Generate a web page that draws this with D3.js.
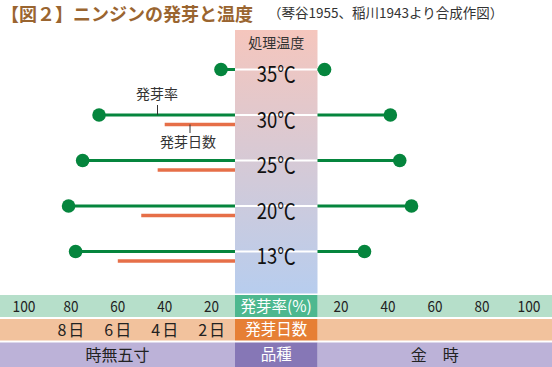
<!DOCTYPE html>
<html>
<head>
<meta charset="utf-8">
<script src="https://cdn.jsdelivr.net/npm/d3@7"></script>
<style>
  body { margin: 0; background: #fff; }
  svg text { font-family: "Noto Sans CJK JP", "Noto Sans", sans-serif; }
</style>
</head>
<body>
<script>
// データ
var temps = ["35℃", "30℃", "25℃", "20℃", "13℃"];
var rateTokinashi = [16, 68, 75, 81, 78];     // 時無五寸 発芽率(%)
var daysTokinashi = [null, 4.0, 4.3, 5.0, 6.0]; // 時無五寸 発芽日数
var rateKintoki = [13, 41, 45, 50, 30];       // 金時 発芽率(%)
var rateTicks = [100, 80, 60, 40, 20];
var dayTicks = [8, 6, 4, 2];
var varieties = ["時無五寸", "品種", "金　時"];

var width = 552, height = 367;
var bandL = 235, bandR = 317.5;

var svg = d3.select("body").append("svg").attr("width", width).attr("height", height);

var xLeft = d3.scaleLinear().domain([0, 100]).range([258.5, 24]);
var xRight = d3.scaleLinear().domain([0, 100]).range([294, 529]);
var xDays = d3.scaleLinear().domain([0, 10]).range([258.5, 24]);
var y = d3.scalePoint().domain(temps).range([69.5, 251.5]);

// タイトル
svg.append("text").attr("x", 1).attr("y", 20.5)
    .attr("font-size", 18).attr("font-weight", "bold").attr("fill", "#9a6530")
    .text("【図２】ニンジンの発芽と温度");
svg.append("text").attr("x", 268).attr("y", 18)
    .attr("font-size", 13.5).attr("fill", "#333")
    .text("（琴谷1955、稲川1943より合成作図）");

// 処理温度の帯（グラデーション）
var grad = svg.append("defs").append("linearGradient").attr("id", "band")
    .attr("x1", 0).attr("y1", 0).attr("x2", 0).attr("y2", 1);
grad.append("stop").attr("offset", "0%").attr("stop-color", "#f5c6bd");
grad.append("stop").attr("offset", "100%").attr("stop-color", "#b7cdee");
svg.append("rect").attr("x", bandL).attr("y", 30).attr("width", bandR - bandL).attr("height", 263.5)
    .attr("fill", "url(#band)");
svg.append("text").attr("x", (bandL + bandR) / 2).attr("y", 48).attr("text-anchor", "middle")
    .attr("font-size", 14).attr("fill", "#333").text("処理温度");

// 温度ごとの白線
svg.selectAll("line.white").data(temps).enter().append("line")
    .attr("x1", bandL).attr("x2", bandR)
    .attr("y1", d => y(d)).attr("y2", d => y(d))
    .attr("stroke", "#fff").attr("stroke-width", 2);

// 発芽日数（左・オレンジ）
var dayData = temps.map((t, i) => ({t: t, v: daysTokinashi[i]})).filter(d => d.v != null);
svg.selectAll("line.days").data(dayData).enter().append("line")
    .attr("x1", d => xDays(d.v)).attr("x2", bandL)
    .attr("y1", d => y(d.t) + 9.5).attr("y2", d => y(d.t) + 9.5)
    .attr("stroke", "#e66f48").attr("stroke-width", 3.5);

// 発芽率（左）
var leftData = temps.map((t, i) => ({t: t, v: rateTokinashi[i]}));
svg.selectAll("line.rl").data(leftData).enter().append("line")
    .attr("x1", d => xLeft(d.v)).attr("x2", bandL)
    .attr("y1", d => y(d.t)).attr("y2", d => y(d.t))
    .attr("stroke", "#05853d").attr("stroke-width", 3);
svg.selectAll("circle.rl").data(leftData).enter().append("circle")
    .attr("cx", d => xLeft(d.v)).attr("cy", d => y(d.t)).attr("r", 6.8)
    .attr("fill", "#05853d");

// 発芽率（右）
var rightData = temps.map((t, i) => ({t: t, v: rateKintoki[i]}));
svg.selectAll("line.rr").data(rightData).enter().append("line")
    .attr("x1", bandR).attr("x2", d => xRight(d.v))
    .attr("y1", d => y(d.t)).attr("y2", d => y(d.t))
    .attr("stroke", "#05853d").attr("stroke-width", 3);
svg.selectAll("circle.rr").data(rightData).enter().append("circle")
    .attr("cx", d => xRight(d.v)).attr("cy", d => y(d.t)).attr("r", 6.8)
    .attr("fill", "#05853d");

// 温度ラベル
svg.selectAll("text.temp").data(temps).enter().append("text")
    .attr("x", (bandL + bandR) / 2).attr("y", d => y(d) + 12.5)
    .attr("text-anchor", "middle").attr("font-size", 22).attr("fill", "#111")
    .attr("textLength", 39).attr("lengthAdjust", "spacingAndGlyphs")
    .text(d => d);

// 注記
svg.append("text").attr("x", 157).attr("y", 99).attr("text-anchor", "middle")
    .attr("font-size", 14).attr("fill", "#333").text("発芽率");
svg.append("line").attr("x1", 157.5).attr("x2", 157.5).attr("y1", 105).attr("y2", y("30℃"))
    .attr("stroke", "#333").attr("stroke-width", 1);
svg.append("text").attr("x", 188).attr("y", 147).attr("text-anchor", "middle")
    .attr("font-size", 14).attr("fill", "#333").text("発芽日数");
svg.append("line").attr("x1", 190).attr("x2", 190).attr("y1", y("30℃") + 9.5).attr("y2", 133)
    .attr("stroke", "#333").attr("stroke-width", 1);

// 下部の軸帯
var rows = [
    {y: 295, h: 22, light: "#b6dfca", dark: "#4db88f", label: "発芽率(%)"},
    {y: 319, h: 21.5, light: "#f2c29d", dark: "#e67f35", label: "発芽日数"},
    {y: 342.5, h: 24.5, light: "#bcb2d8", dark: "#8677b6", label: "品種"}
];
rows.forEach(function(r) {
    svg.append("rect").attr("x", 0).attr("y", r.y).attr("width", bandL).attr("height", r.h).attr("fill", r.light);
    svg.append("rect").attr("x", bandR).attr("y", r.y).attr("width", width - bandR).attr("height", r.h).attr("fill", r.light);
    svg.append("rect").attr("x", bandL).attr("y", r.y).attr("width", bandR - bandL).attr("height", r.h).attr("fill", r.dark);
    svg.append("text").attr("x", (bandL + bandR) / 2).attr("y", r.y + r.h / 2 + 5.5)
        .attr("text-anchor", "middle").attr("font-size", 15.5).attr("fill", "#fff").text(r.label);
});

// 発芽率の目盛
svg.selectAll("text.tl").data(rateTicks).enter().append("text")
    .attr("x", d => xLeft(d)).attr("y", 312).attr("text-anchor", "middle")
    .attr("font-size", 15.5).attr("fill", "#222")
    .attr("textLength", d => d >= 100 ? 23 : 15).attr("lengthAdjust", "spacingAndGlyphs")
    .text(d => d);
svg.selectAll("text.tr").data(rateTicks).enter().append("text")
    .attr("x", d => xRight(d)).attr("y", 312).attr("text-anchor", "middle")
    .attr("font-size", 15.5).attr("fill", "#222")
    .attr("textLength", d => d >= 100 ? 23 : 15).attr("lengthAdjust", "spacingAndGlyphs")
    .text(d => d);

// 発芽日数の目盛
svg.selectAll("text.td").data(dayTicks).enter().append("text")
    .attr("x", d => xDays(d) + 1).attr("y", 336).attr("text-anchor", "middle")
    .attr("font-size", 16).attr("letter-spacing", 2).attr("fill", "#222")
    .text(d => d + "日");

// 品種
svg.append("text").attr("x", bandL / 2).attr("y", 360.5).attr("text-anchor", "middle")
    .attr("font-size", 16).attr("fill", "#222").text(varieties[0]);
svg.append("text").attr("x", (bandR + width) / 2).attr("y", 360.5).attr("text-anchor", "middle")
    .attr("font-size", 16).attr("fill", "#222").text(varieties[2]);
</script>
</body>
</html>
